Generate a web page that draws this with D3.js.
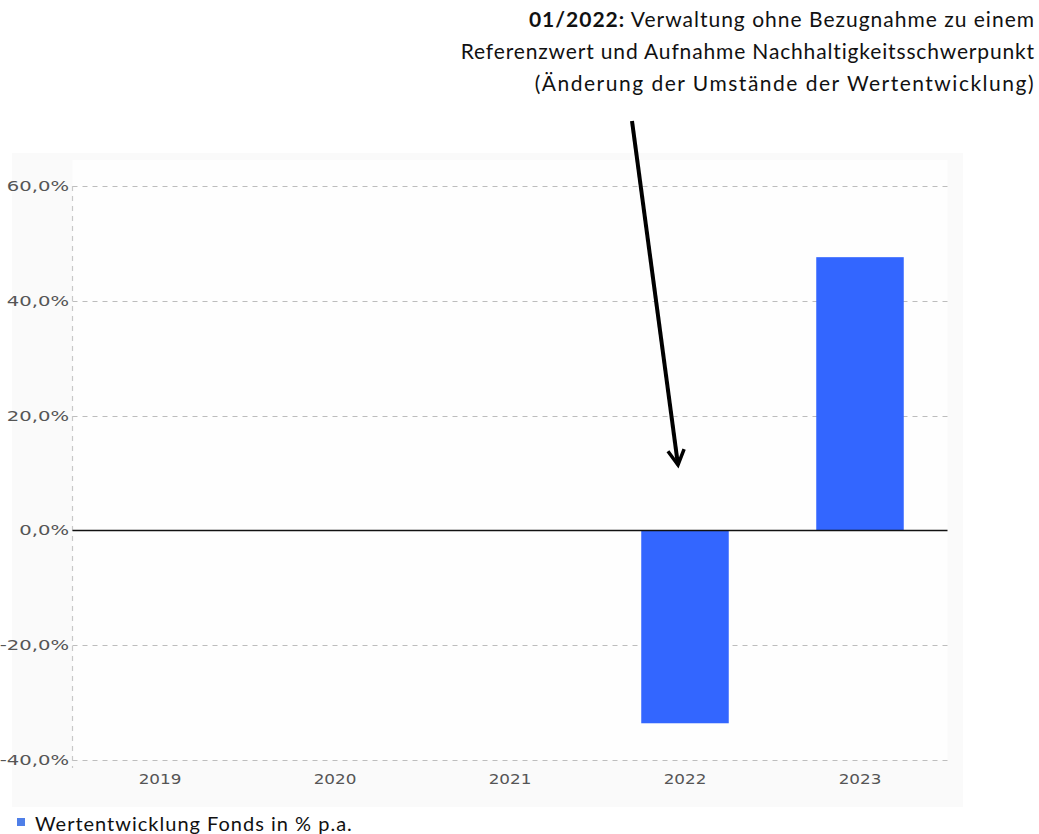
<!DOCTYPE html>
<html><head><meta charset="utf-8">
<script src="https://cdn.jsdelivr.net/npm/d3@7"></script>
<style>body{margin:0;background:#fff;} svg{display:block;}</style>
</head><body>
<svg id="c" width="1039" height="834"></svg>
<script>
const categories = ["2019","2020","2021","2022","2023"];
const values = [null, null, null, -33.6, 47.6];
const yTicks = [60, 40, 20, 0, -20, -40];
const yTickLabels = ["60,0%","40,0%","20,0%","0,0%","-20,0%","-40,0%"];
const legendLabel = "Wertentwicklung Fonds in % p.a.";
const noteBold = "01/2022:";
const noteLines = [" Verwaltung ohne Bezugnahme zu einem","Referenzwert und Aufnahme Nachhaltigkeitsschwerpunkt","(Änderung der Umstände der Wertentwicklung)"];

(function(){
const svg = d3.select("#c");
const pL = 72.5, pR = 947.5, pT = 186, pB = 760;
const x = d3.scaleBand().domain(categories).range([pL, pR]).paddingInner(0.5).paddingOuter(0.25);
const y = d3.scaleLinear().domain([-40, 60]).range([pB, pT]);

// panel background
svg.append("rect").attr("x", 12).attr("y", 153).attr("width", 951).attr("height", 654).attr("fill", "#fafafa");
svg.append("rect").attr("x", pL).attr("y", 160).attr("width", pR - pL).attr("height", pB - 160).attr("fill", "#fefefe");

// gridlines
svg.append("g").selectAll("line").data(yTicks.filter(d => d !== 0)).join("line")
  .attr("x1", pL).attr("x2", pR).attr("y1", d => Math.round(y(d)) + 0.5).attr("y2", d => Math.round(y(d)) + 0.5)
  .attr("stroke", "#bdbdbd").attr("stroke-width", 1.2).attr("stroke-dasharray", "5,5");
// left dashed axis
svg.append("line").attr("x1", pL).attr("x2", pL).attr("y1", pT).attr("y2", pB + 8)
  .attr("stroke", "#c8c8c8").attr("stroke-width", 1.2).attr("stroke-dasharray", "5,5");

// y labels (horizontally stretched like the original bitmap font)
svg.append("g").selectAll("text").data(yTicks).join("text")
  .attr("transform", d => `translate(69,${y(d) + 5}) scale(1.4,1)`).attr("text-anchor", "end")
  .attr("font-family", "DejaVu Sans, Verdana, sans-serif").attr("font-size", 14).attr("fill", "#555")
  .text((d, i) => yTickLabels[i]);

// bars
svg.append("g").selectAll("rect").data(categories.map((c, i) => ({c, v: values[i]})).filter(d => d.v != null)).join("rect")
  .attr("x", d => x(d.c)).attr("width", x.bandwidth())
  .attr("y", d => y(Math.max(0, d.v))).attr("height", d => Math.abs(y(d.v) - y(0)))
  .attr("fill", "#3366ff");

// zero line
svg.append("line").attr("x1", pL).attr("x2", pR).attr("y1", y(0)).attr("y2", y(0))
  .attr("stroke", "#111").attr("stroke-width", 1.5);

// x labels
svg.append("g").selectAll("text").data(categories).join("text")
  .attr("transform", d => `translate(${x(d) + x.bandwidth() / 2},784) scale(1.2,1)`).attr("text-anchor", "middle")
  .attr("font-family", "DejaVu Sans, Verdana, sans-serif").attr("font-size", 14).attr("fill", "#555")
  .text(d => d);

// legend
svg.append("rect").attr("x", 17).attr("y", 818).attr("width", 8).attr("height", 8).attr("fill", "#4f7fe8");
svg.append("text").attr("x", 35).attr("y", 831).attr("font-family", "Lato, sans-serif").attr("font-size", 20).attr("letter-spacing", 1).attr("fill", "#111").text(legendLabel);

// annotation
const t = svg.append("g").attr("font-family", "Lato, sans-serif").attr("font-size", 21).attr("letter-spacing", 1).attr("fill", "#111").attr("text-anchor", "end");
const t1 = t.append("text").attr("x", 1035).attr("y", 27);
t1.append("tspan").attr("font-weight", "bold").text(noteBold);
t1.append("tspan").text(noteLines[0]);
t.append("text").attr("x", 1035).attr("y", 59).attr("letter-spacing", 0.85).text(noteLines[1]);
t.append("text").attr("x", 1035).attr("y", 91).attr("letter-spacing", 1.5).text(noteLines[2]);

// arrow
const ax1 = 632, ay1 = 121, ax2 = x("2022") + x.bandwidth() / 2 - 7, ay2 = 465;
svg.append("line").attr("x1", ax1).attr("y1", ay1).attr("x2", ax2).attr("y2", ay2)
  .attr("stroke", "#000").attr("stroke-width", 4);
const ang = Math.atan2(ay2 - ay1, ax2 - ax1);
const hl = 17, ha = 0.5;
svg.append("path")
  .attr("d", `M${ax2 - hl*Math.cos(ang - ha)},${ay2 - hl*Math.sin(ang - ha)} L${ax2},${ay2} L${ax2 - hl*Math.cos(ang + ha)},${ay2 - hl*Math.sin(ang + ha)}`)
  .attr("fill", "none").attr("stroke", "#000").attr("stroke-width", 3.5).attr("stroke-linejoin", "miter");
})();
</script>
</body></html>
